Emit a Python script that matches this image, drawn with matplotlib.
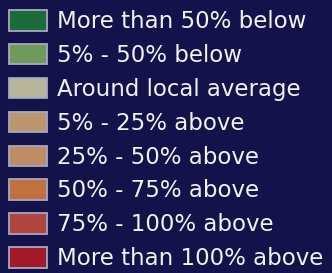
import matplotlib.pyplot as plt
from matplotlib.patches import Patch

labels = [
    'More than 50% below',
    '5% - 50% below',
    'Around local average',
    '5% - 25% above',
    '25% - 50% above',
    '50% - 75% above',
    '75% - 100% above',
    'More than 100% above',
]
colors = ['#1b6b3b', '#6e9a5a', '#b6b49b', '#ba976f', '#c08c66',
          '#c0713f', '#b0453f', '#a01a2a']

bg = '#13124a'
fig = plt.figure(figsize=(3.32, 2.73), dpi=100, facecolor=bg)

handles = [Patch(facecolor=c, edgecolor='#a8a8c0', linewidth=1.3) for c in colors]
leg = fig.legend(handles, labels, loc='upper left', bbox_to_anchor=(9 / 332, 1 - 10 / 273),
                 frameon=False, fontsize=16.5, labelcolor='#f2f2f2',
                 handlelength=1.66, handleheight=1.0, handletextpad=0.44,
                 labelspacing=0.47, borderpad=0, borderaxespad=0)

fig.savefig('out.png', dpi=100, facecolor=bg)
